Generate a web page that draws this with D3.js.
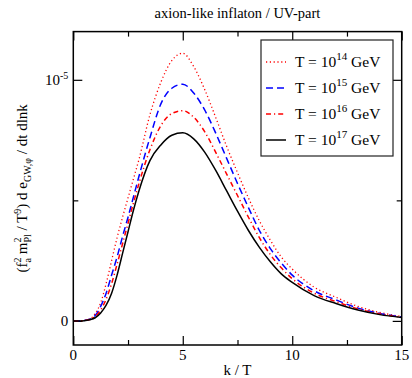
<!DOCTYPE html>
<html>
<head>
<meta charset="utf-8">
<script src="https://cdn.jsdelivr.net/npm/d3@7"></script>
<style>
  body { margin: 0; background: #fff; }
  text { font-family: "Liberation Serif", "DejaVu Serif", serif; fill: #000; }
</style>
</head>
<body>
<div id="chart"></div>
<script>
const kValues = [0, 0.25, 0.5, 0.75, 1, 1.25, 1.5, 1.75, 2, 2.25, 2.5, 2.75, 3, 3.5, 4, 4.5, 5, 5.5, 6, 6.5, 7, 7.5, 8, 8.5, 9, 9.5, 10, 11, 12, 13, 14, 15];

// spectra in units of 1e-5
const seriesT14 = [0, 0, 0.002, 0.008, 0.03, 0.075, 0.155, 0.25, 0.345, 0.43, 0.51, 0.59, 0.67, 0.855, 0.99, 1.08, 1.11, 1.055, 0.96, 0.845, 0.725, 0.615, 0.51, 0.415, 0.335, 0.265, 0.215, 0.14, 0.098, 0.06, 0.035, 0.018];
const seriesT15 = [0, 0, 0.002, 0.007, 0.022, 0.06, 0.115, 0.19, 0.265, 0.35, 0.43, 0.515, 0.60, 0.76, 0.90, 0.965, 0.982, 0.945, 0.875, 0.78, 0.675, 0.57, 0.47, 0.375, 0.30, 0.24, 0.19, 0.125, 0.087, 0.053, 0.031, 0.016];
const seriesT16 = [0, 0, 0.002, 0.006, 0.018, 0.045, 0.09, 0.155, 0.235, 0.32, 0.405, 0.49, 0.57, 0.71, 0.81, 0.86, 0.872, 0.845, 0.785, 0.70, 0.61, 0.52, 0.43, 0.345, 0.275, 0.22, 0.175, 0.115, 0.08, 0.05, 0.029, 0.015];
const seriesT17 = [0, 0, 0.001, 0.005, 0.013, 0.033, 0.065, 0.115, 0.19, 0.28, 0.37, 0.46, 0.54, 0.665, 0.73, 0.77, 0.78, 0.755, 0.70, 0.625, 0.54, 0.455, 0.375, 0.305, 0.245, 0.195, 0.16, 0.105, 0.072, 0.045, 0.026, 0.014];

const legendExponents = ["14", "15", "16", "17"];
const xTickValues = [0, 5, 10, 15];
const xMinorTicks = [2.5, 7.5, 12.5];
const yTickValues = [0, 1];      // 0 and 10^-5
const yMinorTicks = [0.5];

// set the dimensions and margins of the graph
const W = 412, H = 378;
const margin = {top: 31.6, right: 10.3, bottom: 33, left: 73.3},
  width = W - margin.left - margin.right,
  height = H - margin.top - margin.bottom;

const svg = d3.select("#chart")
  .append("svg")
  .attr("width", W)
  .attr("height", H);

const g = svg.append("g")
  .attr("transform", `translate(${margin.left},${margin.top})`);

const x = d3.scaleLinear().domain([0, 15]).range([0, width]);
const y = d3.scaleLinear().domain([-0.1, 1.2]).range([height, 0]);

// ticks on all four sides, pointing inwards
function ticks(axis, values, size) {
  return axis.tickValues(values).tickSizeInner(-size).tickSizeOuter(0).tickFormat("");
}
const axStyle = sel => {
  sel.select(".domain").remove();
  sel.selectAll("line").attr("stroke", "#000").attr("stroke-width", 1.2);
};
g.append("g").attr("transform", `translate(0,${height})`).call(ticks(d3.axisBottom(x), xTickValues, 9)).call(axStyle);
g.append("g").attr("transform", `translate(0,${height})`).call(ticks(d3.axisBottom(x), xMinorTicks, 5)).call(axStyle);
g.append("g").call(ticks(d3.axisTop(x), xTickValues, 9)).call(axStyle);
g.append("g").call(ticks(d3.axisTop(x), xMinorTicks, 5)).call(axStyle);
g.append("g").call(ticks(d3.axisLeft(y), yTickValues, 9)).call(axStyle);
g.append("g").call(ticks(d3.axisLeft(y), yMinorTicks, 5)).call(axStyle);
g.append("g").attr("transform", `translate(${width},0)`).call(ticks(d3.axisRight(y), yTickValues, 9)).call(axStyle);
g.append("g").attr("transform", `translate(${width},0)`).call(ticks(d3.axisRight(y), yMinorTicks, 5)).call(axStyle);

// x tick labels
g.selectAll(".xlab")
  .data(xTickValues)
  .enter().append("text")
  .attr("x", d => x(d))
  .attr("y", height + 15.5)
  .attr("text-anchor", "middle")
  .style("font-size", "15px")
  .text(d => d);

// y tick labels
g.append("text")
  .attr("x", -5)
  .attr("y", y(0) + 5)
  .attr("text-anchor", "end")
  .style("font-size", "15px")
  .text("0");
const yl = g.append("text")
  .attr("x", -5)
  .attr("y", y(1) + 5)
  .attr("text-anchor", "end")
  .style("font-size", "15px");
yl.append("tspan").text("10");
yl.append("tspan").attr("dy", -6).style("font-size", "10px").text("-5");

// the four curves
const series = [
  {values: seriesT14, color: "#ff0000", dash: "1.2,2.6", w: 1.3},
  {values: seriesT15, color: "#0000ff", dash: "7,4", w: 1.5},
  {values: seriesT16, color: "#ff0000", dash: "5,3,1.2,3", w: 1.5},
  {values: seriesT17, color: "#000000", dash: null, w: 1.5}
];

const line = d3.line()
  .x(d => x(d[0]))
  .y(d => y(d[1]))
  .curve(d3.curveMonotoneX);

series.forEach(s => {
  g.append("path")
    .datum(kValues.map((k, i) => [k, s.values[i]]))
    .attr("fill", "none")
    .attr("stroke", s.color)
    .attr("stroke-width", s.w)
    .attr("stroke-dasharray", s.dash)
    .attr("d", line);
});

// frame
g.append("rect")
  .attr("width", width)
  .attr("height", height)
  .attr("fill", "none")
  .attr("stroke", "#000")
  .attr("stroke-width", 1.5);

// legend
const lg = svg.append("g").attr("transform", "translate(261,40)");
lg.append("rect")
  .attr("width", 132)
  .attr("height", 116)
  .attr("fill", "#fff")
  .attr("stroke", "#222")
  .attr("stroke-width", 1.2);
series.forEach((s, i) => {
  const yy = 22 + i * 26;
  lg.append("line")
    .attr("x1", 5).attr("x2", 25)
    .attr("y1", yy).attr("y2", yy)
    .attr("stroke", s.color)
    .attr("stroke-width", s.w)
    .attr("stroke-dasharray", s.dash);
  const t = lg.append("text")
    .attr("x", 34)
    .attr("y", yy + 5)
    .style("font-size", "15.5px");
  t.append("tspan").text("T = 10");
  t.append("tspan").attr("dy", -7).style("font-size", "11px").text(legendExponents[i]);
  t.append("tspan").attr("dy", 7).text(" GeV");
});

// title
svg.append("text")
  .attr("x", margin.left + width / 2)
  .attr("y", 18)
  .attr("text-anchor", "middle")
  .style("font-size", "14.5px")
  .text("axion-like inflaton / UV-part");

// x axis title
svg.append("text")
  .attr("x", margin.left + width / 2)
  .attr("y", 375)
  .attr("text-anchor", "middle")
  .style("font-size", "15px")
  .text("k / T");

// y axis title, built from runs with sub/superscripts
const ylab = svg.append("text")
  .attr("transform", `translate(27,${margin.top + height / 2}) rotate(-90)`)
  .attr("text-anchor", "middle")
  .style("font-size", "15px");
const runs = [
  {t: "(f", s: 0},
  {t: "2", s: -6, f: 10},
  {t: "a", s: 4, f: 10, dx: -5},
  {t: " m", s: 0},
  {t: "2", s: -6, f: 10},
  {t: "Pl", s: 4, f: 10, dx: -5},
  {t: " / T", s: 0},
  {t: "9", s: -6, f: 10},
  {t: ") d e", s: 0},
  {t: "GW,\u03c6", s: 4, f: 10},
  {t: " / dt dlnk", s: 0}
];
let prev = 0;
runs.forEach(r => {
  const ts = ylab.append("tspan")
    .attr("dy", r.s - prev)
    .text(r.t);
  if (r.f) ts.style("font-size", r.f + "px");
  if (r.dx) ts.attr("dx", r.dx);
  prev = r.s;
});
</script>
</body>
</html>
